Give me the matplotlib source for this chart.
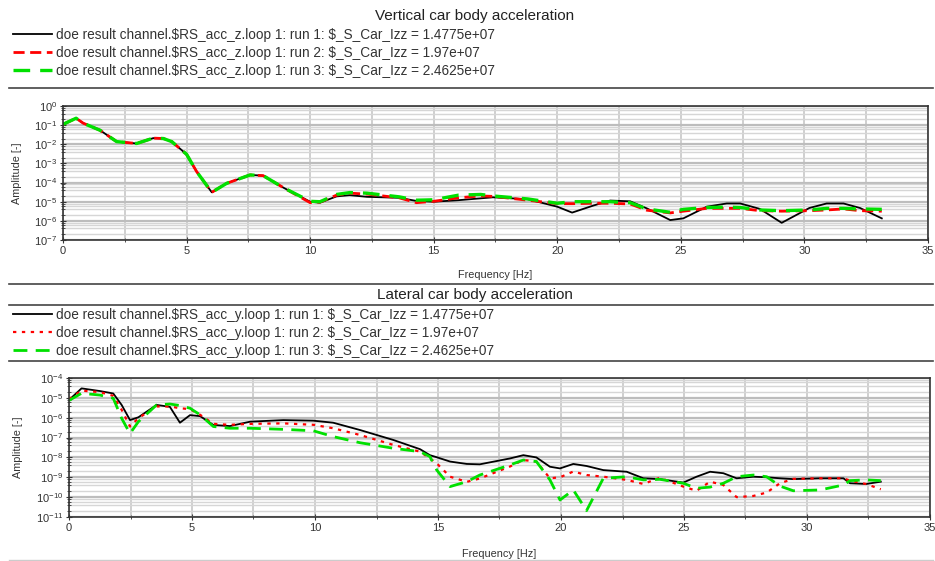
import matplotlib
matplotlib.use("Agg")
import matplotlib.pyplot as plt
from matplotlib.lines import Line2D
from matplotlib.ticker import LogLocator, MultipleLocator, NullFormatter

plt.rcParams['font.family'] = ['Liberation Sans', 'DejaVu Sans']
plt.rcParams['mathtext.fontset'] = 'custom'
plt.rcParams['mathtext.rm'] = 'Liberation Sans'
plt.rcParams['mathtext.it'] = 'Liberation Sans'

# ---- vertical acceleration (top panel) ----
freq_v = [0, 0.53, 0.82, 1.5, 2.17, 2.98, 3.65, 4.06, 4.4, 5.0, 5.41, 6.02, 6.62, 7.57, 8.1, 8.92,
          10.0, 10.4, 11.07, 11.6, 12.3, 13.6, 14.3, 15.0, 16.0, 16.9, 17.4, 18.8, 20.0, 20.6,
          21.46, 22.14, 22.95, 23.62, 24.57, 25.1, 26.05, 26.86, 27.4, 28.2, 29.08, 30.2, 30.9,
          31.58, 32.25, 33.13]
vert_run1 = [0.11, 0.23, 0.126, 0.054, 0.0138, 0.011, 0.021, 0.020, 0.0138, 0.003, 3.7e-4, 3.1e-5,
             9.1e-5, 2.5e-4, 2.3e-4, 5.4e-5,
             1.0e-5, 8.9e-6, 1.9e-5, 2.2e-5, 1.8e-5, 1.6e-5, 1.1e-5, 1.0e-5, 1.2e-5, 1.5e-5,
             1.7e-5, 1.35e-5, 5.5e-6, 2.7e-6, 6.3e-6, 1.15e-5, 1.05e-5, 4.5e-6, 1.1e-6, 1.35e-6,
             5.5e-6, 8.1e-6, 8.1e-6, 4.2e-6, 7.9e-7, 4.7e-6, 8.1e-6, 8.1e-6, 4.7e-6, 1.35e-6]
vert_run2 = [0.11, 0.23, 0.126, 0.054, 0.0138, 0.011, 0.021, 0.020, 0.0138, 0.003, 3.7e-4, 3.1e-5,
             9.1e-5, 2.5e-4, 2.3e-4, 5.4e-5,
             8.9e-6, 9.5e-6, 2.2e-5, 2.8e-5, 2.5e-5, 1.6e-5, 8.9e-6, 1.05e-5, 1.6e-5, 2.0e-5,
             1.9e-5, 1.2e-5, 7.9e-6, 7.9e-6, 8.3e-6, 8.3e-6, 7.6e-6, 3.6e-6, 2.6e-6, 3.2e-6,
             4.5e-6, 4.5e-6, 4.5e-6, 3.4e-6, 3.2e-6, 3.4e-6, 3.7e-6, 4.2e-6, 3.4e-6, 3.2e-6]
vert_run3 = [0.11, 0.23, 0.126, 0.054, 0.0138, 0.011, 0.021, 0.020, 0.0138, 0.003, 3.7e-4, 3.1e-5,
             9.1e-5, 2.5e-4, 2.3e-4, 5.4e-5,
             1.05e-5, 1.0e-5, 2.4e-5, 3.0e-5, 2.8e-5, 1.8e-5, 1.2e-5, 1.26e-5, 2.2e-5, 2.4e-5,
             2.0e-5, 1.4e-5, 8.3e-6, 1.0e-5, 1.0e-5, 1.0e-5, 8.9e-6, 4.2e-6, 2.8e-6, 4.0e-6,
             5.0e-6, 5.2e-6, 5.0e-6, 3.7e-6, 3.4e-6, 3.7e-6, 4.5e-6, 4.5e-6, 4.2e-6, 4.0e-6]

# ---- lateral acceleration (bottom panel) ----
freq_l = [0, 0.51, 1.26, 1.8, 2.14, 2.48, 2.82, 3.56, 4.1, 4.51, 4.92, 5.33, 5.87, 6.54, 7.36,
          8.71, 9.93, 10.74, 11.83, 13.18, 14.27, 14.67, 14.95, 15.49, 16.17, 16.7, 17.93, 18.47,
          19.0, 19.55, 19.96, 20.5, 21.04, 21.72, 22.67, 23.35, 24.02, 24.97, 25.51, 26.06, 26.6,
          27.14, 27.82, 28.36, 28.9, 29.44, 30.53, 31.48, 31.75, 32.4, 33.0]
lat_run1 = [7.8e-6, 3.0e-5, 2.2e-5, 1.66e-5, 4.4e-6, 7.6e-7, 1.05e-6, 4.4e-6, 3.55e-6, 5.6e-7,
            1.35e-6, 1.2e-6, 4.3e-7, 3.8e-7, 6.3e-7, 7.6e-7, 7.1e-7, 5.6e-7, 2.4e-7, 7.6e-8,
            2.6e-8, 1.3e-8, 1.02e-8, 6.2e-9, 4.7e-9, 4.5e-9, 8.9e-9, 1.3e-8, 1.0e-8, 3.4e-9,
            2.8e-9, 4.7e-9, 3.7e-9, 2.3e-9, 1.9e-9, 8.9e-10, 8.1e-10, 5.4e-10, 1.07e-9, 1.9e-9,
            1.6e-9, 8.9e-10, 1.07e-9, 1.0e-9, 8.9e-10, 8.1e-10, 8.9e-10, 8.9e-10, 5.0e-10,
            4.6e-10, 6.0e-10]
lat_run2 = [8.7e-6, 2.3e-5, 1.95e-5, 1.26e-5, 2.5e-6, 3.6e-7, 9.5e-7, 3.7e-6, 3.7e-6, 3.0e-6,
            2.7e-6, 1.4e-6, 4.9e-7, 4.4e-7, 4.9e-7, 5.2e-7, 4.4e-7, 2.95e-7, 1.35e-7, 4.3e-8,
            1.95e-8, 8.9e-9, 5.0e-9, 1.07e-9, 5.9e-10, 8.7e-10, 3.5e-9, 7.4e-9, 6.2e-9, 8.9e-10,
            1.0e-9, 1.95e-9, 1.3e-9, 1.07e-9, 7.4e-10, 4.6e-10, 9.5e-10, 3.4e-10, 2.1e-10, 6.0e-10,
            4.1e-10, 1.0e-10, 1.15e-10, 1.7e-10, 5.0e-10, 8.3e-10, 8.9e-10, 8.9e-10, 6.8e-10,
            4.6e-10, 2.5e-10]
lat_run3 = [7.4e-6, 1.7e-5, 1.38e-5, 9.5e-6, 9.3e-7, 1.6e-7, 6.3e-7, 4.4e-6, 4.9e-6, 4.1e-6,
            3.0e-6, 1.4e-6, 3.6e-7, 2.95e-7, 2.95e-7, 2.6e-7, 2.2e-7, 1.12e-7, 5.5e-8, 2.9e-8,
            1.95e-8, 1.1e-8, 2.3e-9, 3.4e-10, 6.0e-10, 1.3e-9, 4.2e-9, 7.4e-9, 6.2e-9, 7.4e-10,
            7.2e-11, 2.3e-10, 2.1e-11, 8.9e-10, 1.07e-9, 7.4e-10, 7.9e-10, 5.0e-10, 2.8e-10,
            3.2e-10, 5.0e-10, 1.07e-9, 1.3e-9, 1.07e-9, 3.6e-10, 2.1e-10, 2.3e-10, 4.1e-10,
            6.8e-10, 7.4e-10, 6.8e-10]

izz_labels = ['1.4775e+07', '1.97e+07', '2.4625e+07']
titles = ['Vertical car body acceleration', 'Lateral car body acceleration']
channels = ['RS_acc_z', 'RS_acc_y']

W, H = 935, 561
fig = plt.figure(figsize=(W / 100, H / 100), dpi=100)


def px_axes(left, top, right, bottom):
    return fig.add_axes([left / W, 1 - bottom / H, (right - left) / W, (bottom - top) / H])


def hline(y, color='#444444', lw=1.2):
    fig.add_artist(Line2D([9 / W, 933 / W], [1 - y / H, 1 - y / H], transform=fig.transFigure,
                          color=color, lw=lw))


def style_axes(ax, ylo, yhi):
    ax.set_yscale('log')
    ax.set_xlim(0, 35)
    ax.set_ylim(ylo, yhi)
    ax.xaxis.set_major_locator(MultipleLocator(5))
    ax.xaxis.set_minor_locator(MultipleLocator(2.5))
    ax.yaxis.set_major_locator(LogLocator(base=10, numticks=20))
    ax.yaxis.set_minor_locator(LogLocator(base=10, subs=(2, 4, 6, 8), numticks=20))
    ax.yaxis.set_minor_formatter(NullFormatter())
    ax.grid(True, which='major', axis='y', color='#bdbdbd', lw=1.6)
    ax.grid(True, which='minor', axis='y', color='#d6d6d6', lw=1.0)
    ax.grid(True, which='both', axis='x', color='#cbcbcb', lw=1.3)
    ax.set_axisbelow(True)
    for sp in ax.spines.values():
        sp.set_color('#333333')
        sp.set_linewidth(1.2)
    ax.tick_params(axis='both', which='major', labelsize=8, colors='#333333', length=4,
                   direction='inout', pad=2)
    ax.tick_params(axis='both', which='minor', length=3, direction='inout', colors='#333333')
    ax.set_xlabel('Frequency [Hz]', fontsize=7.8, color='#333333')
    ax.set_ylabel('Amplitude [-]', fontsize=7.8, color='#333333')


# top panel
ax1 = px_axes(63, 106, 928, 240)
style_axes(ax1, 1e-7, 1e0)
h1 = []
h1 += ax1.plot(freq_v, vert_run1, color='black', lw=1.3)
h1 += ax1.plot(freq_v, vert_run2, color='#ff0000', lw=2.0, ls=(0, (4, 2)))
h1 += ax1.plot(freq_v, vert_run3, color='#00e000', lw=2.4, ls=(0, (5, 3)))
ax1.xaxis.set_label_coords(0.5, -0.224)
ax1.yaxis.set_label_coords(-0.047, 0.5)

# bottom panel
ax2 = px_axes(69, 378, 930, 517)
style_axes(ax2, 1e-11, 1e-4)
h2 = []
h2 += ax2.plot(freq_l, lat_run1, color='black', lw=1.3)
h2 += ax2.plot(freq_l, lat_run2, color='#ff0000', lw=1.6, ls=(0, (1.5, 2.5)))
h2 += ax2.plot(freq_l, lat_run3, color='#00e000', lw=2.0, ls=(0, (5, 3)))
ax2.xaxis.set_label_coords(0.5, -0.23)
ax2.yaxis.set_label_coords(-0.053, 0.5)

# titles, legends and separator lines
for title, ty in zip(titles, [16, 295]):
    fig.text(475 / W, 1 - ty / H, title, ha='center', va='center', fontsize=11, color='#222222')

for handles, chan, ly in zip([h1, h2], channels, [28, 308]):
    labels = ['doe result channel.\\$%s.loop 1: run %d: \\$_S_Car_Izz = %s' % (chan, i + 1, izz)
              for i, izz in enumerate(izz_labels)]
    fig.legend(handles, labels, loc='upper left', bbox_to_anchor=(13 / W, 1 - ly / H),
               frameon=False, fontsize=9.8, handlelength=2.87, handletextpad=0.3,
               labelspacing=0.28, borderpad=0, borderaxespad=0, labelcolor='#333333')

hline(88)
hline(284)
hline(305)
hline(361)
hline(560, color='#cccccc', lw=1.0)

fig.savefig('out.png', dpi=100)
